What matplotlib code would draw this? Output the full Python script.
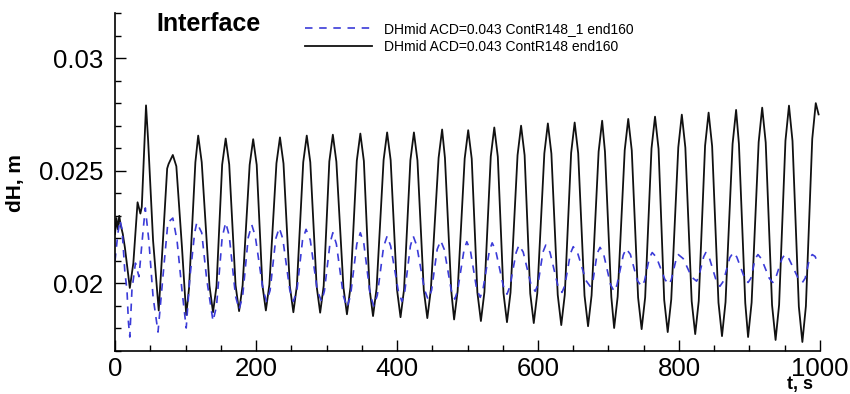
import matplotlib.pyplot as plt
from matplotlib.ticker import MultipleLocator

plt.rcParams['font.family'] = ['Liberation Sans', 'DejaVu Sans']

# Black line: DHmid ACD=0.043 ContR148 end160
t_black = [0, 2, 4, 6, 8, 11, 14, 21, 26, 31, 32, 36, 38, 40, 44, 47, 54, 62,
           68, 74, 76, 82, 87, 95, 101,
           105, 114, 118, 123, 134, 139, 144, 152, 157, 162, 171, 176, 181, 191,
           196, 201, 209, 214, 219, 229, 234, 239, 248, 253, 258, 267, 272, 277,
           286, 291, 296, 304, 309, 314, 324, 329, 334, 343, 348, 353, 361, 366,
           371, 381, 386, 391, 400, 405, 410, 419, 424, 429, 438, 443, 448, 459,
           464, 468, 477, 481, 486, 496, 501, 506, 514, 519, 524, 533, 538, 543,
           551, 556, 561, 571, 576, 581, 589, 594, 599, 609, 614, 619, 628, 633,
           638, 647, 652, 657, 666, 671, 676, 686, 691, 695, 704, 708, 713, 723,
           728, 733, 742, 747, 752, 761, 766, 771, 779, 784, 789, 799, 804, 809,
           818, 823, 828, 837, 842, 847, 856, 861, 866, 876, 881, 885, 894, 898,
           903, 913, 918, 923, 932, 937, 942, 951, 956, 961, 970, 975, 980, 989,
           994, 998]
dh_black = [0.0222, 0.0229, 0.0224, 0.0230, 0.0226, 0.0222, 0.0216, 0.0198, 0.0209,
            0.0231, 0.0236, 0.0231, 0.0234, 0.0249, 0.0279, 0.02634, 0.0219, 0.0188,
            0.0219, 0.0251, 0.0253, 0.0257, 0.0252, 0.0216, 0.0186,
            0.01979, 0.02537, 0.02656, 0.02538, 0.0199, 0.01872, 0.01988, 0.02527,
            0.02643, 0.02528, 0.01992, 0.01877, 0.01991, 0.02526, 0.0264, 0.02526,
            0.01994, 0.0188, 0.01995, 0.02533, 0.02648, 0.02532, 0.01988, 0.01872,
            0.0199, 0.02538, 0.02656, 0.02538, 0.01988, 0.0187, 0.01989, 0.02541,
            0.0266, 0.0254, 0.01983, 0.01863, 0.01983, 0.02545, 0.02665, 0.02543,
            0.01977, 0.01855, 0.01977, 0.02548, 0.0267, 0.02547, 0.01973, 0.0185,
            0.01973, 0.02547, 0.0267, 0.02546, 0.0197, 0.01846, 0.01972, 0.02557,
            0.02683, 0.02557, 0.01966, 0.0184, 0.01966, 0.02554, 0.0268, 0.02553,
            0.0196, 0.01833, 0.01962, 0.02563, 0.02692, 0.02562, 0.01958, 0.01828,
            0.01959, 0.02569, 0.0270, 0.02569, 0.01955, 0.01824, 0.01957, 0.02577,
            0.0271, 0.02576, 0.01949, 0.01815, 0.0195, 0.02579, 0.02714, 0.02578,
            0.01946, 0.0181, 0.01947, 0.02585, 0.02722, 0.02584, 0.0194, 0.01802,
            0.01941, 0.02591, 0.0273, 0.0259, 0.01937, 0.01797, 0.01938, 0.02599,
            0.0274, 0.02597, 0.01927, 0.01784, 0.01929, 0.02604, 0.02749, 0.02603,
            0.01921, 0.01775, 0.01922, 0.02611, 0.02758, 0.02609, 0.01915, 0.01766,
            0.01917, 0.02619, 0.0277, 0.02619, 0.01913, 0.01762, 0.01915, 0.02627,
            0.0278, 0.02625, 0.01904, 0.01749, 0.01905, 0.02633, 0.02789, 0.02632,
            0.01897, 0.0174, 0.01899, 0.02641, 0.0280, 0.0275]

# Blue dashed line: DHmid ACD=0.043 ContR148_1 end160
t_blue = [0, 4, 7, 10, 14, 17, 19, 21, 24, 29, 34, 40, 43, 48, 54, 61, 68, 75, 82,
          88, 95, 101, 106, 113, 116, 123, 130, 139,
          144, 152, 157, 162, 171, 176, 181, 189, 194, 199, 210, 215, 220, 228,
          233, 238, 248, 253, 258, 266, 271, 277, 287, 293, 297, 305, 309, 314,
          324, 329, 334, 343, 348, 353, 362, 367, 372, 381, 386, 391, 402, 407,
          411, 419, 423, 428, 439, 444, 449, 457, 462, 467, 477, 482, 486, 495,
          499, 504, 513, 518, 522, 531, 535, 540, 551, 556, 560, 569, 573, 579,
          590, 596, 600, 607, 611, 617, 628, 634, 638, 646, 650, 656, 668, 674,
          678, 684, 688, 693, 703, 708, 712, 721, 725, 731, 741, 747, 751, 758,
          762, 768, 780, 786, 789, 796, 799, 806, 818, 825, 828, 835, 838, 843,
          853, 858, 863, 872, 877, 882, 893, 898, 902, 908, 912, 917, 928, 933,
          937, 946, 950, 956, 969, 975, 979, 985, 989, 993, 997]
dh_blue = [0.0210, 0.0222, 0.0228, 0.0224, 0.0205, 0.0197, 0.0183, 0.01762, 0.0197,
           0.0209, 0.0203, 0.0224, 0.02335, 0.0219, 0.0194, 0.01784, 0.0203, 0.0227,
           0.0229, 0.0219, 0.0197, 0.01802, 0.0202, 0.02225, 0.0227, 0.02225, 0.0202,
           0.01833,
           0.01899, 0.02204, 0.0227, 0.02212, 0.01943, 0.01885, 0.01941, 0.02204,
           0.0226, 0.02209, 0.01971, 0.0192, 0.01969, 0.02198, 0.02247, 0.02198,
           0.01969, 0.0192, 0.01968, 0.02192, 0.0224, 0.02192, 0.01968, 0.0192,
           0.01966, 0.02179, 0.02225, 0.02175, 0.01944, 0.01894, 0.01944, 0.02175,
           0.02225, 0.02176, 0.01949, 0.0190, 0.01947, 0.02163, 0.0221, 0.02166,
           0.01964, 0.0192, 0.01964, 0.02166, 0.0221, 0.02168, 0.01972, 0.0193,
           0.01969, 0.02151, 0.0219, 0.02151, 0.01969, 0.0193, 0.01968, 0.02147,
           0.02185, 0.02148, 0.01975, 0.01938, 0.01974, 0.02144, 0.0218, 0.02146,
           0.01986, 0.01952, 0.01985, 0.02137, 0.0217, 0.02139, 0.01996, 0.01965,
           0.01996, 0.02139, 0.0217, 0.02138, 0.01992, 0.0196, 0.0199, 0.02133,
           0.02163, 0.02137, 0.02013, 0.01987, 0.02013, 0.02134, 0.0216, 0.02131,
           0.01994, 0.01965, 0.01993, 0.02126, 0.02154, 0.02129, 0.02012, 0.01987,
           0.0201, 0.02114, 0.02137, 0.02116, 0.02017, 0.01996, 0.02016, 0.02108,
           0.02128, 0.0211, 0.02028, 0.0201, 0.02029, 0.02118, 0.02137, 0.02114,
           0.0201, 0.01987, 0.0201, 0.02114, 0.02137, 0.02117, 0.02024, 0.02004,
           0.02023, 0.02109, 0.02128, 0.02109, 0.02023, 0.02004, 0.02023, 0.02109,
           0.02128, 0.02109, 0.02023, 0.02004, 0.02023, 0.02109, 0.02128, 0.0212,
           0.0209]

label_blue = 'DHmid ACD=0.043 ContR148_1 end160'
label_black = 'DHmid ACD=0.043 ContR148 end160'

fig = plt.figure(figsize=(8.5, 3.94), dpi=100)
ax = fig.add_axes([0.1353, 0.1091, 0.8294, 0.8579])

ln_black, = ax.plot(t_black, dh_black, color='#111111', linewidth=1.3,
                    solid_joinstyle='round', label=label_black)
ln_blue, = ax.plot(t_blue, dh_blue, color='#3b3bd8', linewidth=1.2,
                   linestyle=(0, (4.5, 4)), label=label_blue)

ax.set_xlim(0, 1000)
ax.set_ylim(0.017, 0.032)

ax.xaxis.set_major_locator(MultipleLocator(200))
ax.xaxis.set_minor_locator(MultipleLocator(50))
ax.yaxis.set_minor_locator(MultipleLocator(0.001))
ax.set_yticks([0.02, 0.025, 0.03])
ax.set_yticklabels(['0.02', '0.025', '0.03'])

ax.tick_params(which='both', direction='in', width=1.0, labelsize=18.5)
ax.tick_params(which='major', length=8)
ax.tick_params(which='minor', length=4.5)
ax.tick_params(axis='y', pad=8.5)
ax.tick_params(axis='x', pad=4)

for side in ['top', 'right']:
    ax.spines[side].set_visible(False)
for side in ['left', 'bottom']:
    ax.spines[side].set_linewidth(1.2)

fig.text(209 / 850, 1 - 24 / 394, 'Interface', fontsize=18, fontweight='bold',
         ha='center', va='center')
fig.text(16 / 850, 1 - 183 / 394, 'dH, m', fontsize=15, fontweight='bold',
         rotation=90, ha='center', va='center')
fig.text(800 / 850, 1 - 385 / 394, 't, s', fontsize=13, fontweight='bold',
         ha='center', va='center')

fig.legend(handles=[ln_blue, ln_black], loc='upper left',
           bbox_to_anchor=(305 / 850, 1 - 22 / 394), frameon=False,
           fontsize=10, handlelength=4.8, handletextpad=0.9,
           labelspacing=0.3, borderpad=0, borderaxespad=0)

fig.savefig('out.png', dpi=100)
